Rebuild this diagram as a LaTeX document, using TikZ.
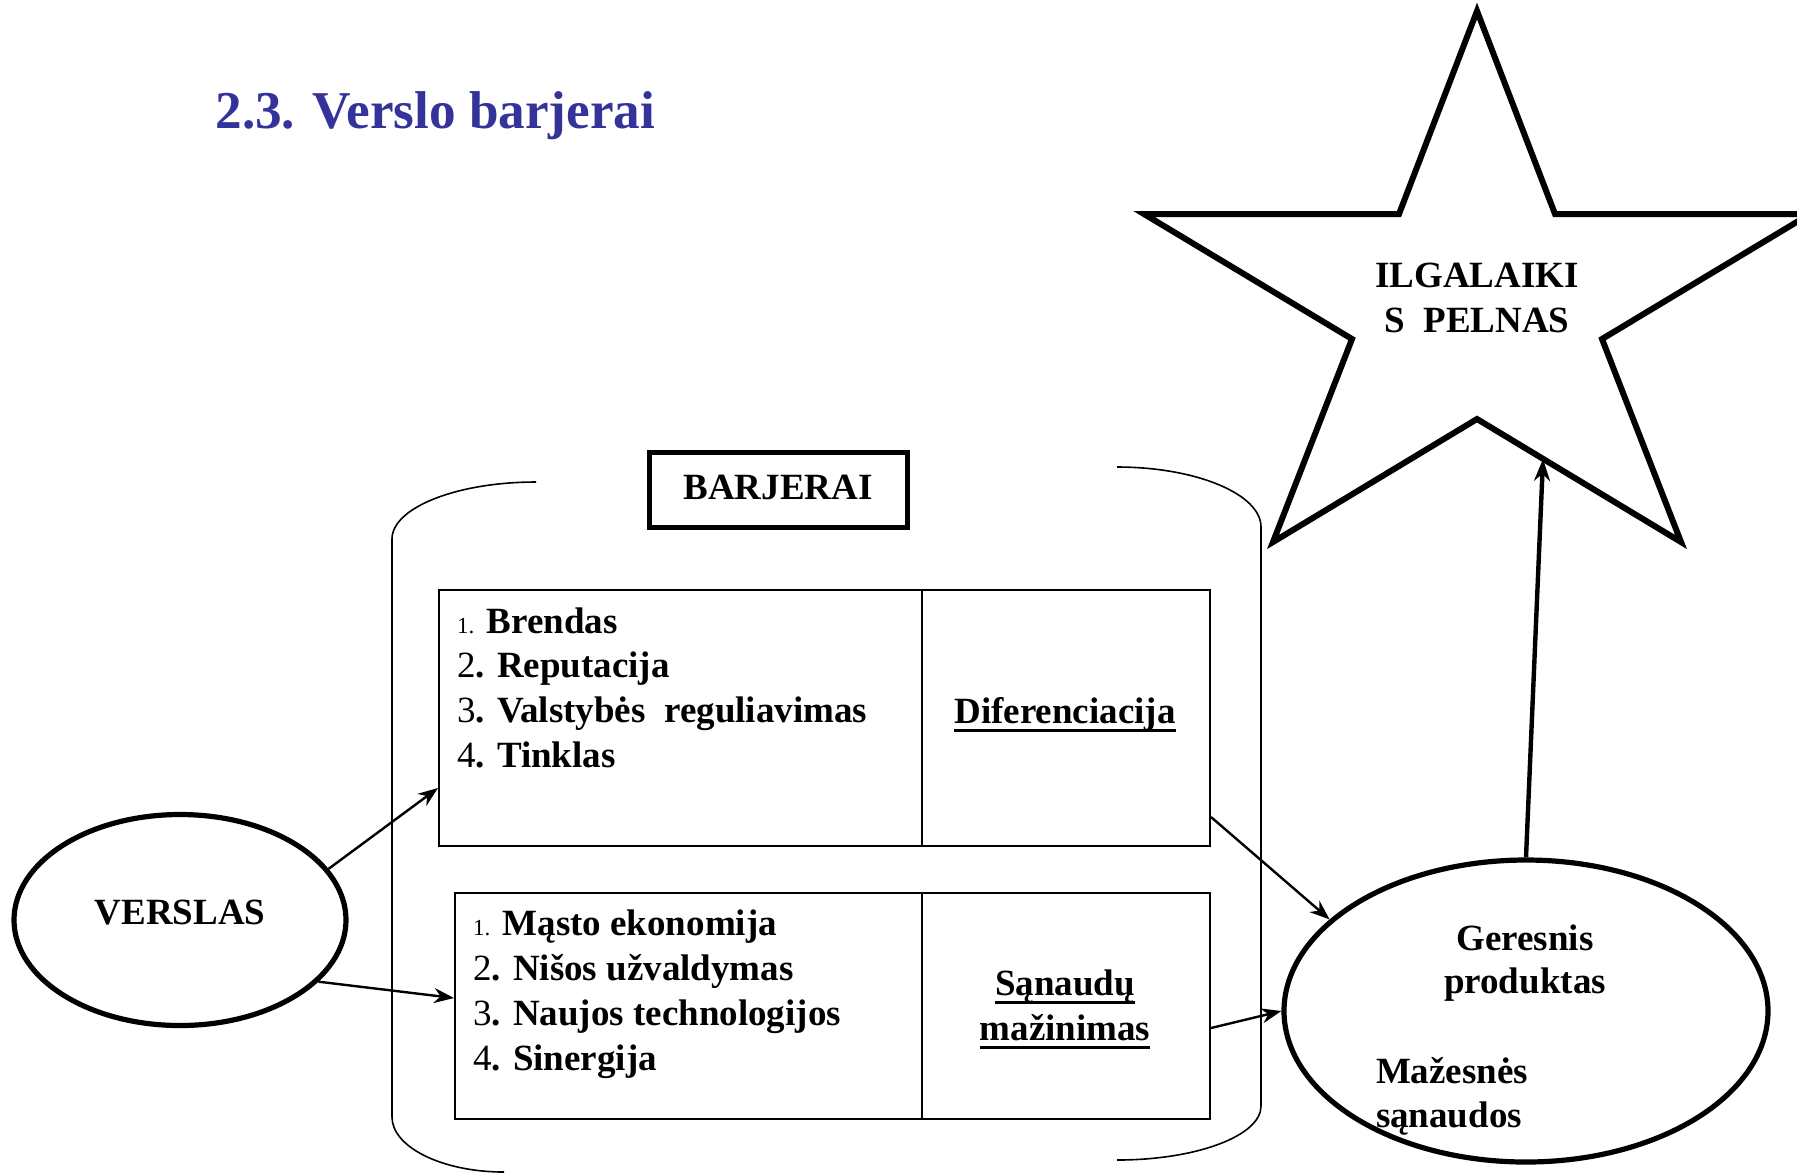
\documentclass[tikz,border=0pt]{standalone}
\usepackage{fontspec}
\setmainfont{Liberation Serif}
\usetikzlibrary{arrows.meta,shapes.geometric,calc}
\definecolor{ttl}{RGB}{51,51,153}
\begin{document}
\begin{tikzpicture}[x=0.5pt,y=-0.5pt,
  txt/.style={font=\fontsize{18.5pt}{22pt}\selectfont\bfseries, inner sep=0, outer sep=0},
  sm/.style={},
  cell/.style={draw, line width=1pt, rectangle, inner sep=0, anchor=north west},
  ell/.style={draw, ellipse, line width=2.6pt, inner sep=0},
  hdrbox/.style={draw, line width=2.5pt, rectangle, inner sep=0},
  cont/.style={line width=0.8pt},
  arr/.style={line width=1.2pt, -{Stealth[length=10pt,width=7.5pt]}},
  bigarr/.style={line width=2.2pt, -{Stealth[length=11pt,width=8pt]}},
  starline/.style={line width=3pt, line join=miter},
  ul/.style={line width=1.5pt}
]
\useasboundingbox (0,0) rectangle (1797,1175);

% title
\node[anchor=base west, inner sep=0, text=ttl, font=\fontsize{26.6pt}{30pt}\selectfont\bfseries] (title) at (215,128) {2.3. Verslo barjerai};

% star
\draw[starline] (1477,11) -- (1555,214) -- (1810,214) -- (1602,339) -- (1681,542) -- (1477,419) -- (1273,542) -- (1352,339) -- (1144,214) -- (1399,214) -- cycle;
\node[txt, anchor=base] (st1) at (1477,287) {ILGALAIKI};
\node[txt, anchor=base] (st2) at (1477,332) {S\ \ PELNAS};
\coordinate (sa) at (1543,459);

% container
\draw[cont] (536,482) .. controls (456,482) and (392,508) .. (392,539) -- (392,1117)
  .. controls (392,1147) and (442,1172) .. (504,1172);
\draw[cont] (1117,467) .. controls (1196,467) and (1261,494) .. (1261,527) -- (1261,1106)
  .. controls (1261,1136) and (1196,1160) .. (1117,1160);

% header box
\node[hdrbox, minimum width=129pt, minimum height=37.5pt] (bar) at (778,489.5) {};
\node[txt, anchor=base] (bartxt) at (778,499) {BARJERAI};

% boxes
\node[cell, minimum width=241.5pt, minimum height=128pt] (b1l) at (438,589) {};
\node[cell, minimum width=144pt, minimum height=128pt] (b1r) at (921,589) {};
\node[cell, minimum width=233.5pt, minimum height=113pt] (b2l) at (454,892) {};
\node[cell, minimum width=144pt, minimum height=113pt] (b2r) at (921,892) {};

% box 1 text
\node[txt, anchor=base west] (l11) at (457,633) {{\mdseries\fontsize{11.5pt}{12pt}\selectfont 1.} Brendas};
\node[txt, anchor=base west] (l12) at (457,677) {{\mdseries 2}. Reputacija};
\node[txt, anchor=base west] (l13) at (457,722) {{\mdseries 3}. Valstybės\ \ reguliavimas};
\node[txt, anchor=base west] (l14) at (457,767) {{\mdseries 4}. Tinklas};
\node[txt, anchor=base] (dif) at (1065,723) {Diferenciacija};
\draw[ul] ([yshift=-3.5pt]dif.base west) -- ([yshift=-3.5pt]dif.base east);

% box 2 text
\node[txt, anchor=base west] (l21) at (473,935) {{\mdseries\fontsize{11.5pt}{12pt}\selectfont 1.} Mąsto ekonomija};
\node[txt, anchor=base west] (l22) at (473,980) {{\mdseries 2}. Nišos užvaldymas};
\node[txt, anchor=base west] (l23) at (473,1025) {{\mdseries 3}. Naujos technologijos};
\node[txt, anchor=base west] (l24) at (473,1070) {{\mdseries 4}. Sinergija};
\node[txt, anchor=base] (san) at (1065,995) {Sąnaudų};
\node[txt, anchor=base] (maz) at (1065,1040) {mažinimas};
\draw[ul] ([yshift=-3.5pt]san.base west) -- ([yshift=-3.5pt]san.base east);
\draw[ul] ([yshift=-3.5pt]maz.base west) -- ([yshift=-3.5pt]maz.base east);

% ellipses
\node[ell, minimum width=166pt, minimum height=105.5pt] (versl) at (180,920) {};
\node[txt, anchor=base] (vtxt) at (180,924) {VERSLAS};
\node[ell, minimum width=242pt, minimum height=151pt] (ger) at (1526,1011) {};
\node[txt, anchor=base] (g1) at (1525,950) {Geresnis};
\node[txt, anchor=base] (g2) at (1525,993) {produktas};
\node[txt, anchor=base west] (m1) at (1376,1083) {Mažesnės};
\node[txt, anchor=base west] (m2) at (1376,1127) {sąnaudos};

% arrows
\draw[arr] (versl.19) -- ([yshift=29.5pt]b1l.south west);
\draw[arr] (versl.-24) -- ([yshift=4pt]b2l.west);
\draw[arr] ([yshift=-49.5pt]b1r.east) -- (ger.155);
\draw[arr] ([yshift=-11pt]b2r.east) -- (ger.west);
\draw[bigarr] (ger.north) -- (sa);
\end{tikzpicture}
\end{document}
